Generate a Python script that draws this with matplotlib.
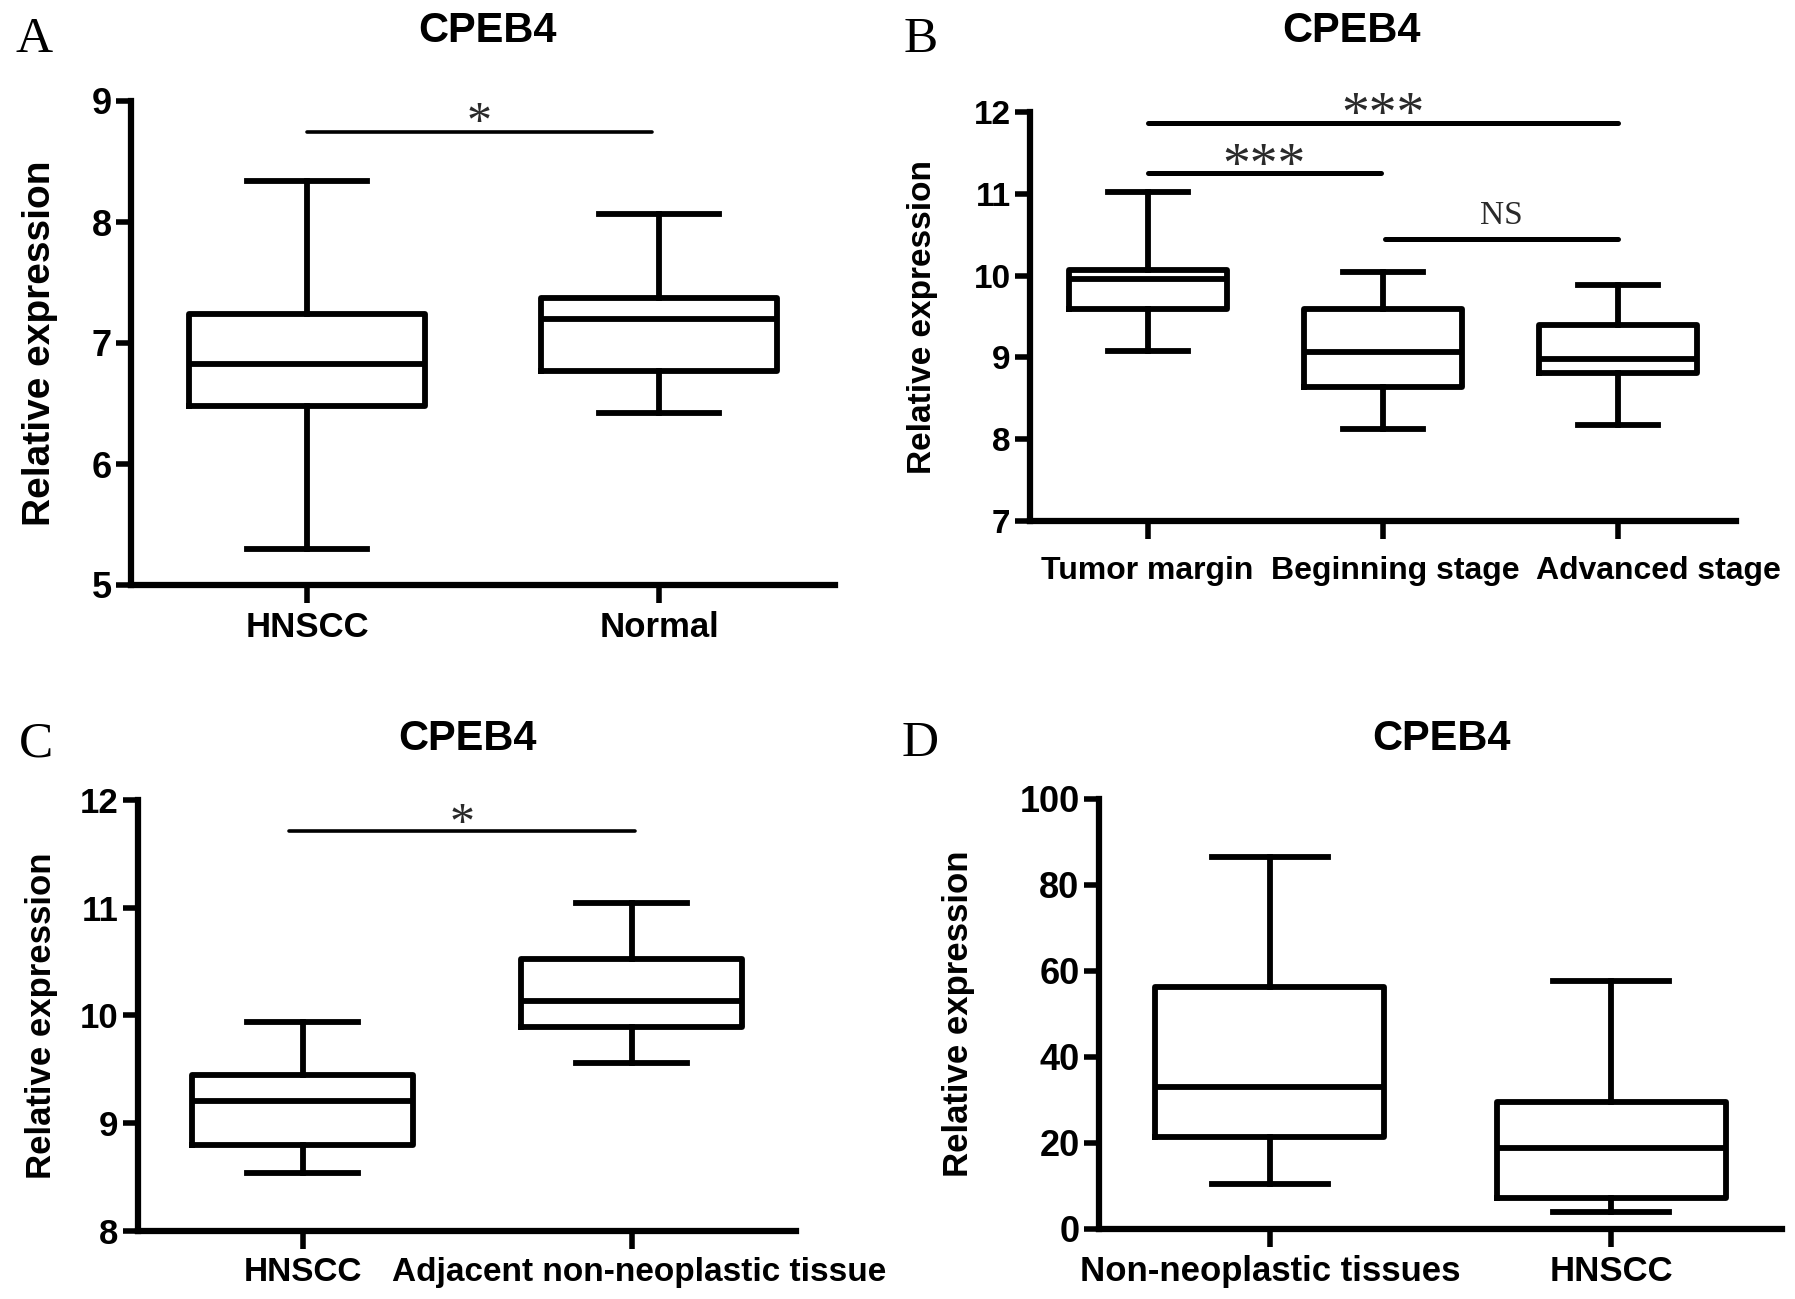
import numpy as np
import matplotlib
matplotlib.use('Agg')
import matplotlib.pyplot as plt
from matplotlib.transforms import ScaledTranslation

plt.rcParams['font.family'] = ['Liberation Sans', 'DejaVu Sans']
plt.rcParams['font.weight'] = 'bold'

# Panel A
a_groups = ['HNSCC', 'Normal']
a_whislo = [5.30, 6.42]
a_q1 = [6.48, 6.77]
a_med = [6.83, 7.20]
a_q3 = [7.24, 7.37]
a_whishi = [8.34, 8.07]

# Panel B
b_groups = ['Tumor margin', 'Beginning stage', 'Advanced stage']
b_whislo = [9.08, 8.13, 8.17]
b_q1 = [9.59, 8.64, 8.81]
b_med = [9.96, 9.07, 8.98]
b_q3 = [10.07, 9.59, 9.40]
b_whishi = [11.02, 10.05, 9.88]

# Panel C
c_groups = ['HNSCC', 'Adjacent non-neoplastic tissue']
c_whislo = [8.54, 9.56]
c_q1 = [8.80, 9.89]
c_med = [9.21, 10.13]
c_q3 = [9.45, 10.52]
c_whishi = [9.94, 11.04]

# Panel D
d_groups = ['Non-neoplastic tissues', 'HNSCC']
d_whislo = [10.4, 3.9]
d_q1 = [21.4, 7.2]
d_med = [33.1, 18.8]
d_q3 = [56.3, 29.5]
d_whishi = [86.5, 57.7]

# significance bars: (x1, x2, y, label, text_y)
a_sig = [(1, 1.98, 8.74, '*', 8.81)]
b_sig = [(1, 3, 11.87, '***', 11.94), (1, 1.99, 11.25, '***', 11.32), (2.01, 3, 10.45, 'NS', 10.73)]
c_sig = [(0.96, 2.01, 11.71, '*', 11.77)]

W, H = 1795, 1299
fig = plt.figure(figsize=(W / 100, H / 100), dpi=100)


def px_rect(left, top, right, bottom):
    return [left / W, 1 - bottom / H, (right - left) / W, (bottom - top) / H]


def draw_panel(rect, groups, lo, q1, med, q3, hi, ylim, yticks, xlim,
               tick_fs, ylab_fs, ylab_x, sig=None, star_fs=36, sig_lw=2.8,
               xpad=6, label_dx=None):
    ax = fig.add_axes(rect)
    stats = []
    for i in range(len(groups)):
        stats.append({'whislo': lo[i], 'q1': q1[i], 'med': med[i],
                      'q3': q3[i], 'whishi': hi[i], 'fliers': []})
    pos = np.arange(1, len(groups) + 1)
    lw = 4.2
    ax.bxp(stats, positions=pos, widths=0.67, capwidths=0.34, showfliers=False,
           boxprops=dict(color='black', linewidth=lw),
           whiskerprops=dict(color='black', linewidth=lw),
           capprops=dict(color='black', linewidth=lw),
           medianprops=dict(color='black', linewidth=lw))
    ax.set_xlim(*xlim)
    ax.set_ylim(*ylim)
    ax.set_yticks(yticks)
    ax.set_xticks(pos)
    ax.set_xticklabels(groups, fontsize=tick_fs, fontweight='bold')
    ax.tick_params(axis='y', labelsize=tick_fs + 1, width=4, length=11, pad=3)
    ax.tick_params(axis='x', width=4, length=13, pad=xpad)
    if label_dx:
        for lab, dx in zip(ax.get_xticklabels(), label_dx):
            lab.set_transform(lab.get_transform() +
                              ScaledTranslation(dx / 100, 0, fig.dpi_scale_trans))
    for s in ['top', 'right']:
        ax.spines[s].set_visible(False)
    for s in ['left', 'bottom']:
        ax.spines[s].set_linewidth(4.5)
    ax.set_ylabel('Relative expression', fontsize=ylab_fs, fontweight='bold')
    ax.yaxis.set_label_coords(ylab_x, 0.5)
    if sig:
        for x1, x2, y, lab, ty in sig:
            ax.plot([x1, x2], [y, y], color='black', lw=sig_lw, clip_on=False,
                    solid_capstyle='round')
            fs = star_fs if '*' in lab else 24
            ax.text((x1 + x2) / 2, ty, lab, ha='center', va='center',
                    fontsize=fs, fontweight='normal', color='#2a2a2a',
                    family='Liberation Serif', clip_on=False)
    return ax


draw_panel(px_rect(131, 101, 835, 585), a_groups, a_whislo, a_q1, a_med, a_q3, a_whishi,
           (5, 9), [5, 6, 7, 8, 9], (0.5, 2.5), 25, 28, -0.104, a_sig, 36, 2.6)
draw_panel(px_rect(1030, 112, 1736, 521), b_groups, b_whislo, b_q1, b_med, b_q3, b_whishi,
           (7, 12), [7, 8, 9, 10, 11, 12], (0.5, 3.5), 23, 24, -0.130, b_sig, 40, 3.6,
           xpad=12, label_dx=[0, 12, 40])
draw_panel(px_rect(138, 800, 796, 1231), c_groups, c_whislo, c_q1, c_med, c_q3, c_whishi,
           (8, 12), [8, 9, 10, 11, 12], (0.5, 2.5), 24, 25, -0.122, c_sig, 36, 2.6,
           label_dx=[0, 8])
draw_panel(px_rect(1099, 799, 1782, 1229), d_groups, d_whislo, d_q1, d_med, d_q3, d_whishi,
           (0, 100), [0, 20, 40, 60, 80, 100], (0.5, 2.5), 25, 25, -0.182)

titles = [(488, 31), (1352, 31), (468, 739), (1441, 739)]
for x, y in titles:
    fig.text(x / W, 1 - y / H, 'CPEB4', ha='center', va='center',
             fontsize=30, fontweight='bold')

letters = [('A', 34, 40), ('B', 921, 40), ('C', 36, 744), ('D', 920, 744)]
for lab, x, y in letters:
    fig.text(x / W, 1 - y / H, lab, ha='center', va='center', fontsize=37,
             fontweight='normal', family='Liberation Serif')

fig.savefig('out.png', dpi=100, facecolor='white')
